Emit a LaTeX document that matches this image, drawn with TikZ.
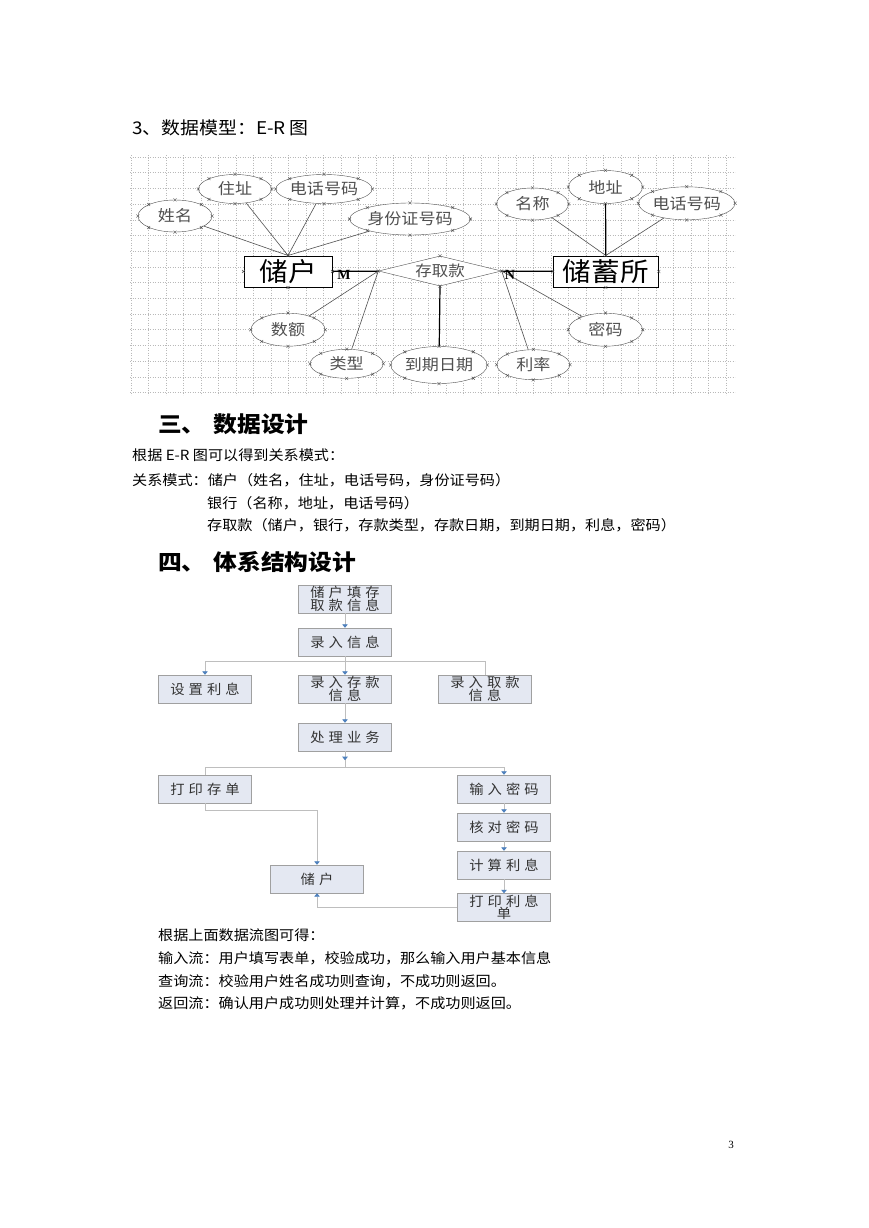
\documentclass[tikz,border=0pt]{standalone}
\usepackage{fontspec}
\setmainfont{Liberation Serif}
\newfontfamily\cjk[FakeStretch=1.08]{Noto Sans CJK SC}
\newfontfamily\erfont[FakeStretch=1.1]{Noto Sans CJK SC}
\newfontfamily\boxfont[FakeStretch=1.06,LetterSpace=30]{Noto Sans CJK SC}
\usepackage{xcolor}
\usepackage{tikz}
\usetikzlibrary{shapes.geometric,arrows.meta,positioning,calc}
\definecolor{boxfill}{RGB}{228,232,242}
\definecolor{boxline}{RGB}{160,160,160}
\definecolor{flowline}{RGB}{190,190,190}
\definecolor{tipblue}{RGB}{79,129,189}
\definecolor{ergray}{RGB}{80,80,80}
\definecolor{gridgray}{RGB}{185,185,185}

\begin{document}
\begin{tikzpicture}[x=1pt,y=-1pt,>={Triangle[width=5.5pt,length=3.5pt,color=tipblue]},
  txt/.style={anchor=west,inner sep=0,font=\cjk\fontsize{14}{16}\selectfont},
  head/.style={anchor=west,inner sep=0,font=\cjk\bfseries\fontsize{22}{24}\selectfont},
  attr/.style={ellipse,draw=ergray,fill=white,text=ergray,inner sep=0,minimum width=74,minimum height=32,font=\erfont\fontsize{15.5}{17}\selectfont},
  ent/.style={rectangle,draw=black,line width=1pt,fill=white,inner sep=0,minimum width=88,minimum height=31,font=\erfont\fontsize{26}{28}\selectfont},
  rel/.style={diamond,aspect=4,draw=ergray,fill=white,text=ergray,inner sep=0,minimum width=123,minimum height=30,font=\erfont\fontsize{15}{17}\selectfont},
  thinl/.style={draw=ergray,line width=0.6pt},
  thickl/.style={draw=black,line width=1.2pt},
  mk/.style={draw=ergray,line width=0.4pt},
  gridl/.style={draw=gridgray,dotted,line width=0.5pt},
  fbox/.style={rectangle,draw=boxline,fill=boxfill,text=black!80,minimum width=93,minimum height=28,inner sep=0,align=center,font=\boxfont\fontsize{13.5}{12.5}\selectfont},
  fline/.style={draw=flowline,line width=0.8pt}]
  \fill[white] (0,0) rectangle (869,1228);
  \node[anchor=west,inner sep=0,font=\cjk\fontsize{17.5}{20}\selectfont] (title) at (132,128) {3、数据模型：E-R 图};
  \foreach \i in {0,...,34} \draw[gridl] (131+17.5*\i,155) -- ++(0,240);
  \foreach \j in {0,...,15} \draw[gridl] (130,157+15.7*\j) -- ++(605,0);
  \node[attr] (xm) at (175,216) {姓名};
  \node[attr,minimum width=73,minimum height=29] (zz) at (235,189) {住址};
  \node[attr,minimum width=75,minimum height=29] (dh1) at (324,189) {电话号码};
  \node[attr,minimum width=96] (sfz) at (410,219) {身份证号码};
  \node[ent] (ch) at (288,271.5) {储户};
  \node[rel] (cqk) at (440,271) {存取款};
  \node[ent,minimum width=105] (cxs) at (605.8,271.5) {储蓄所};
  \node[attr,minimum width=72] (mc) at (532.5,204) {名称};
  \node[attr,minimum height=33] (dz) at (605.5,187) {地址};
  \node[attr,minimum width=80,minimum height=33] (dh2) at (686.7,203.3) {电话号码};
  \node[attr,minimum height=33] (se) at (288,329.7) {数额};
  \node[attr,minimum width=73,minimum height=29] (lx) at (346.7,363.8) {类型};
  \node[attr,minimum width=88,minimum height=37] (dq) at (439,365) {到期日期};
  \node[attr,minimum width=73,minimum height=30] (ll) at (533.3,364.7) {利率};
  \node[attr,minimum height=33] (mm) at (605.5,329.7) {密码};
  \foreach \a in {xm,zz,dh1,sfz} \draw[thinl] (ch.north) -- (\a);
  \foreach \a in {mc,dh2} \draw[thinl] (cxs.north) -- (\a);
  \draw[thickl] (cxs.north) -- (dz);
  \draw[thickl] (ch) -- (cqk) -- (cxs);
  \foreach \a in {se,lx} \draw[thinl] (cqk.west) -- (\a);
  \foreach \a in {ll,mm} \draw[thinl] (cqk.east) -- (\a);
  \draw[thickl] (cqk.south) -- (dq);
  \node[font=\bfseries\fontsize{14}{16}\selectfont] (mlab) at (344,275) {M};
  \node[font=\bfseries\fontsize{14}{16}\selectfont] (nlab) at (510,275) {N};
  \foreach \n in {xm,zz,dh1,sfz,mc,dz,dh2,se,lx,dq,ll,mm}
    \foreach \p in {north,south,east,west,north east,north west,south east,south west}
      \draw[mk] (\n.\p) +(-1.5,-1.5) -- +(1.5,1.5) +(-1.5,1.5) -- +(1.5,-1.5);
  \foreach \n in {ch,cqk,cxs}
    \foreach \p in {north,south,east,west}
      \draw[mk] (\n.\p) +(-1.5,-1.5) -- +(1.5,1.5) +(-1.5,1.5) -- +(1.5,-1.5);
  \node[head] (h3) at (158,424) {三、\hspace{8pt}数据设计};
  \node[txt] (t1) at (132,455) {根据 E-R 图可以得到关系模式：};
  \node[txt] (t2) at (132,480) {关系模式：储户（姓名，住址，电话号码，身份证号码）};
  \node[txt] (t3) at (207,503) {银行（名称，地址，电话号码）};
  \node[txt] (t4) at (207,525) {存取款（储户，银行，存款类型，存款日期，到期日期，利息，密码）};
  \node[head] (h4) at (158,562) {四、\hspace{8pt}体系结构设计};
  \node[fbox] (f1) at (345,599) {储户填存\\取款信息};
  \node[fbox] (f2) at (345,642) {录入信息};
  \node[fbox] (f3) at (205,689) {设置利息};
  \node[fbox] (f4) at (345,689) {录入存款\\信息};
  \node[fbox] (f5) at (485,689) {录入取款\\信息};
  \node[fbox] (f6) at (345,737) {处理业务};
  \node[fbox] (f7) at (205,789) {打印存单};
  \node[fbox] (f8) at (504,789) {输入密码};
  \node[fbox] (f9) at (504,827) {核对密码};
  \node[fbox] (f10) at (504,865) {计算利息};
  \node[fbox] (f11) at (504,907.5) {打印利息\\单};
  \node[fbox] (f12) at (317,879) {储户};
  \draw[fline,->] (f1) -- (f2);
  \draw[fline,->] (f2) -- (f4);
  \draw[fline,->] (f2.south) -- ++(0,5) -| (f3.north);
  \draw[fline] (f2.south) -- ++(0,5) -| (f5.north);
  \draw[fline,->] (f4) -- (f6);
  \draw[fline] (f6.south) -- ++(0,16) coordinate (b2);
  \draw[fline,->] (f6.south) -- ++(0,9);
  \draw[fline] (b2) -| (f7.north);
  \draw[fline,->] (b2) -| (f8.north);
  \draw[fline,->] (f8) -- (f9);
  \draw[fline,->] (f9) -- (f10);
  \draw[fline,->] (f10) -- (f11);
  \draw[fline,->] (f7.south) -- ++(0,7.5) -| (f12.north);
  \draw[fline,->] (f11.west) -| (f12.south);
  \node[txt] (t5) at (158,935) {根据上面数据流图可得：};
  \node[txt] (t6) at (158,958) {输入流：用户填写表单，校验成功，那么输入用户基本信息};
  \node[txt] (t7) at (158,981) {查询流：校验用户姓名成功则查询，不成功则返回。};
  \node[txt] (t8) at (158,1003) {返回流：确认用户成功则处理并计算，不成功则返回。};
  \node[font=\fontsize{11}{13}\selectfont] (pg) at (731,1145) {3};
\end{tikzpicture}
\end{document}
